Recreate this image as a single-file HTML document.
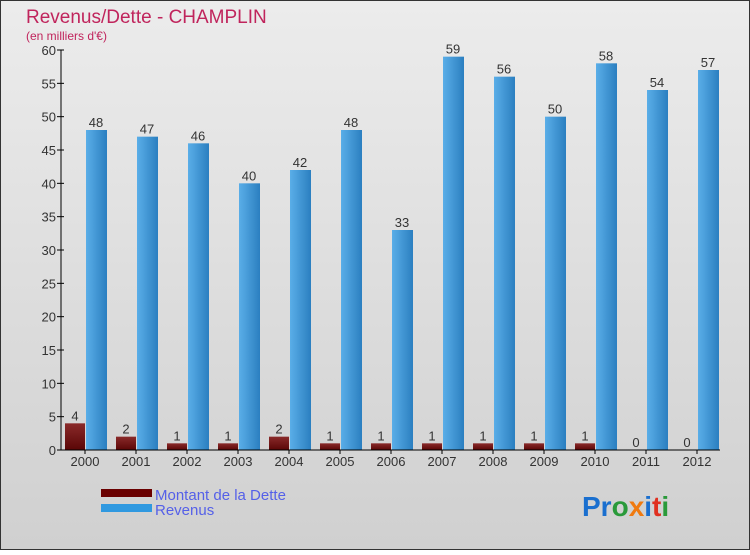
<!DOCTYPE html>
<html><head><meta charset="utf-8"><style>
html,body{margin:0;padding:0}
body{width:750px;height:550px;overflow:hidden;font-family:"Liberation Sans",sans-serif}
</style></head><body>
<svg id="chart" width="750" height="550" xmlns="http://www.w3.org/2000/svg" font-family="Liberation Sans, sans-serif">
<defs>
<linearGradient id="bg" x1="0" y1="0" x2="0" y2="1"><stop offset="0" stop-color="#ececec"/><stop offset="1" stop-color="#d0d0d0"/></linearGradient>
<linearGradient id="gd" x1="0" y1="0" x2="0" y2="1"><stop offset="0" stop-color="#8a2a2a"/><stop offset="1" stop-color="#5a0606"/></linearGradient>
<linearGradient id="gr" x1="0" y1="0" x2="1" y2="0"><stop offset="0" stop-color="#5aaee8"/><stop offset="1" stop-color="#2b7fc0"/></linearGradient>
</defs>
<rect x="0.5" y="0.5" width="749" height="549" fill="url(#bg)" stroke="#333"/>
<text x="26" y="23" font-size="19" fill="#c0245c">Revenus/Dette - CHAMPLIN</text>
<text x="26" y="40" font-size="12" fill="#c0245c">(en milliers d'€)</text>
<g id="grid"></g><g id="bars"></g><g id="axes"></g>
<g>
<rect x="101" y="489" width="51" height="8" fill="#6a0000"/>
<text x="155" y="500" font-size="15" fill="#5560e8">Montant de la Dette</text>
<rect x="101" y="504" width="51" height="8" fill="#3099e0"/>
<text x="155" y="515" font-size="15" fill="#5560e8">Revenus</text>
</g>
<text x="582" y="516" font-size="28" font-weight="bold"><tspan fill="#1a6fcf">Pr</tspan><tspan fill="#2a9a3a">o</tspan><tspan fill="#f07a10">x</tspan><tspan fill="#1a6fcf">i</tspan><tspan fill="#e03020">t</tspan><tspan fill="#2a9a3a">i</tspan></text>
</svg>
<script>
const years=["2000","2001","2002","2003","2004","2005","2006","2007","2008","2009","2010","2011","2012"];
const dette=[4,2,1,1,2,1,1,1,1,1,1,0,0];
const revenus=[48,47,46,40,42,48,33,59,56,50,58,54,57];
const yTicks=[0,5,10,15,20,25,30,35,40,45,50,55,60];
const NS="http://www.w3.org/2000/svg";
const y0=450,yTop=50,yMax=60,xL=61,xR=720;
const yS=v=>y0-(v/yMax)*(y0-yTop);
const xC=i=>85+i*51;
function mk(t,a,p){const e=document.createElementNS(NS,t);for(const k in a)e.setAttribute(k,a[k]);p.appendChild(e);return e;}
const axes=document.getElementById('axes'),bars=document.getElementById('bars');
let ax=mk('line',{x1:xL,y1:yTop,x2:xL,y2:y0,stroke:'#000'},axes);


let bx=mk('line',{x1:xL,y1:y0,x2:xR,y2:y0,stroke:'#000'},axes);


yTicks.forEach(v=>{
 const y=yS(v);
 let t=mk('line',{x1:xL-4,y1:y,x2:xL+3,y2:y,stroke:'#000'},axes);
 
 
 let l=mk('text',{x:xL-5,y:y+5,'font-size':13,'text-anchor':'end',fill:'#333'},axes);
 
 
 l.textContent=v;
});
years.forEach((yr,i)=>{
 const c=xC(i);
 let t=mk('line',{x1:c,y1:y0,x2:c,y2:y0+4,stroke:'#000'},axes);
 
 
 let l=mk('text',{x:c,y:y0+16,'font-size':13,'text-anchor':'middle',fill:'#333'},axes);
 
 
 l.textContent=yr;
 const yd=yS(dette[i]);
 let b=mk('rect',{x:c-20,y:yd,width:20,height:y0-yd,fill:'url(#gd)'},bars);
 
 
 let dl=mk('text',{x:c-10,y:yd-3,'font-size':13,'text-anchor':'middle',fill:'#333'},bars);
 
 
 dl.textContent=dette[i];
 const yr2=yS(revenus[i]);
 let r=mk('rect',{x:c+1,y:yr2,width:21,height:y0-yr2,fill:'url(#gr)'},bars);
 
 
 let rl=mk('text',{x:c+11,y:yr2-3,'font-size':13,'text-anchor':'middle',fill:'#333'},bars);
 
 
 rl.textContent=revenus[i];
});
</script>
</body></html>
